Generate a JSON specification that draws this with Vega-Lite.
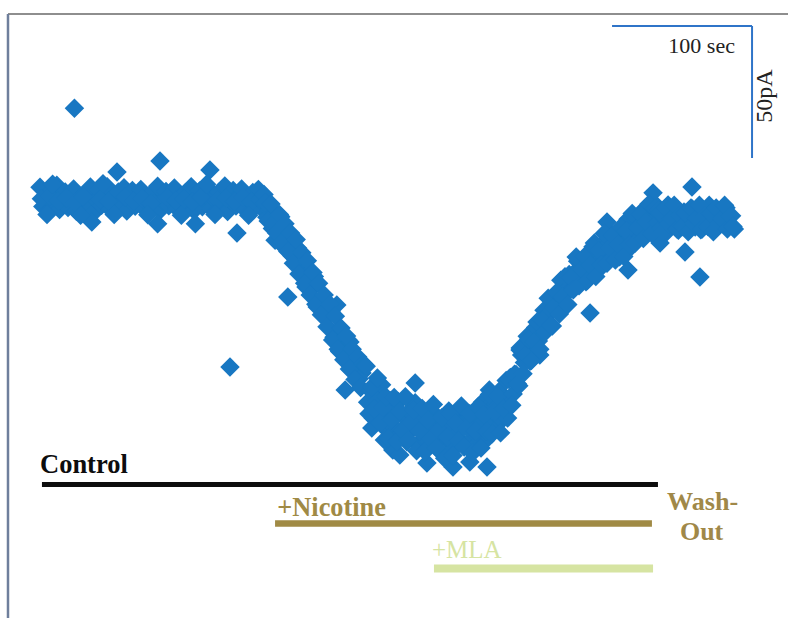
{
  "$schema": "https://vega.github.io/schema/vega-lite/v6.json",
  "width": 788,
  "height": 618,
  "autosize": "none",
  "padding": 0,
  "background": "white",
  "config": {"view": {"stroke": null}},
  "datasets": {
    "current": [
      {"t": 0, "pA": 4.8}, {"t": 2, "pA": -2.5}, {"t": 4, "pA": 1.2}, {"t": 6, "pA": -4.0}, {"t": 8, "pA": 3.5}, {"t": 10, "pA": -1.5},
      {"t": 12, "pA": 5.6}, {"t": 14, "pA": -3.6}, {"t": 16, "pA": 0.3}, {"t": 18, "pA": 3.0}, {"t": 20, "pA": -2.8}, {"t": 22, "pA": 1.5},
      {"t": 24, "pA": 4.2}, {"t": 26, "pA": -4.3}, {"t": 28, "pA": 0.6}, {"t": 30, "pA": -3.2}, {"t": 32, "pA": 2.4}, {"t": 34, "pA": -0.8},
      {"t": 36, "pA": 4.9}, {"t": 38, "pA": -5.0}, {"t": 40, "pA": 0.0}, {"t": 42, "pA": 3.8}, {"t": 44, "pA": -2.0}, {"t": 46, "pA": 2.0},
      {"t": 48, "pA": 5.0}, {"t": 50, "pA": -3.4}, {"t": 52, "pA": 1.0}, {"t": 54, "pA": -4.4}, {"t": 56, "pA": 3.0}, {"t": 58, "pA": -1.0},
      {"t": 60, "pA": 4.6}, {"t": 62, "pA": -4.2}, {"t": 64, "pA": 0.2}, {"t": 66, "pA": 3.6}, {"t": 68, "pA": -2.4}, {"t": 70, "pA": 1.6},
      {"t": 72, "pA": 4.0}, {"t": 74, "pA": -3.0}, {"t": 76, "pA": 0.8}, {"t": 78, "pA": -4.8}, {"t": 80, "pA": 2.6}, {"t": 82, "pA": -1.4},
      {"t": 84, "pA": 5.2}, {"t": 86, "pA": -3.8}, {"t": 88, "pA": -0.3}, {"t": 90, "pA": 3.2}, {"t": 92, "pA": -2.2}, {"t": 94, "pA": 2.2},
      {"t": 96, "pA": 4.5}, {"t": 98, "pA": -3.3}, {"t": 100, "pA": 1.1}, {"t": 102, "pA": -4.5}, {"t": 104, "pA": 2.8}, {"t": 106, "pA": -0.6},
      {"t": 108, "pA": 5.0}, {"t": 110, "pA": -4.0}, {"t": 112, "pA": 0.4}, {"t": 114, "pA": 3.4}, {"t": 116, "pA": -2.6}, {"t": 118, "pA": 1.8},
      {"t": 120, "pA": 4.4}, {"t": 122, "pA": -3.1}, {"t": 124, "pA": 0.7}, {"t": 126, "pA": -4.2}, {"t": 128, "pA": 3.0}, {"t": 130, "pA": -1.2},
      {"t": 132, "pA": 5.3}, {"t": 134, "pA": -4.4}, {"t": 136, "pA": 0.0}, {"t": 138, "pA": 3.6}, {"t": 140, "pA": -2.3}, {"t": 142, "pA": 1.7},
      {"t": 144, "pA": 4.2}, {"t": 146, "pA": -3.4}, {"t": 148, "pA": 0.8}, {"t": 150, "pA": -4.6}, {"t": 152, "pA": 2.8}, {"t": 154, "pA": -1.2},
      {"t": 156, "pA": 4.0}, {"t": 158, "pA": -3.0},
      {"t": 24.6, "pA": 34.8}, {"t": 85.7, "pA": 14.8}, {"t": 121.4, "pA": 11.4}, {"t": 55, "pA": 10.6},
      {"t": 140.7, "pA": -12.5}, {"t": 135.7, "pA": -63.3}, {"t": 37, "pA": -8.3}, {"t": 84, "pA": -9.0}, {"t": 111, "pA": -9.0},
      {"t": 1, "pA": 0.5}, {"t": 7, "pA": 1.5}, {"t": 13, "pA": -0.5}, {"t": 19, "pA": 0.8}, {"t": 25, "pA": -1.0}, {"t": 31, "pA": 1.2},
      {"t": 43, "pA": 0.2}, {"t": 49, "pA": -0.6}, {"t": 61, "pA": 1.0}, {"t": 67, "pA": -0.4}, {"t": 73, "pA": 0.6}, {"t": 79, "pA": -1.2},
      {"t": 91, "pA": 0.9}, {"t": 97, "pA": -0.2}, {"t": 103, "pA": 0.4}, {"t": 109, "pA": -0.8}, {"t": 115, "pA": 1.1}, {"t": 127, "pA": 0.0},
      {"t": 133, "pA": 0.7}, {"t": 139, "pA": -0.5}, {"t": 145, "pA": 1.0}, {"t": 151, "pA": -0.7}, {"t": 157, "pA": 0.3},
      {"t": 5, "pA": -5.5}, {"t": 29, "pA": -5.8}, {"t": 53, "pA": -5.5}, {"t": 77, "pA": -5.6}, {"t": 101, "pA": -5.8}, {"t": 125, "pA": -5.5},
      {"t": 149, "pA": -5.8}, {"t": 9, "pA": 6.0}, {"t": 45, "pA": 6.2}, {"t": 119, "pA": 6.0},
      {"t": 160, "pA": 2.1}, {"t": 162, "pA": -6.5}, {"t": 164, "pA": -3.8}, {"t": 166, "pA": -10.8}, {"t": 168, "pA": -5.1}, {"t": 170, "pA": -11.0},
      {"t": 172, "pA": -6.3}, {"t": 174, "pA": -17.6}, {"t": 176, "pA": -15.4}, {"t": 178, "pA": -13.8}, {"t": 180, "pA": -21.1}, {"t": 182, "pA": -18.9},
      {"t": 184, "pA": -18.2}, {"t": 186, "pA": -27.6}, {"t": 188, "pA": -25.5}, {"t": 190, "pA": -33.0}, {"t": 192, "pA": -27.5}, {"t": 194, "pA": -33.5},
      {"t": 196, "pA": -29.0}, {"t": 198, "pA": -40.5}, {"t": 200, "pA": -38.4}, {"t": 202, "pA": -37.0}, {"t": 204, "pA": -44.6}, {"t": 206, "pA": -42.7},
      {"t": 208, "pA": -42.4}, {"t": 210, "pA": -52.0}, {"t": 212, "pA": -50.0}, {"t": 214, "pA": -57.4}, {"t": 216, "pA": -51.8}, {"t": 218, "pA": -57.7},
      {"t": 220, "pA": -53.0}, {"t": 222, "pA": -64.3}, {"t": 224, "pA": -62.1}, {"t": 226, "pA": -60.4}, {"t": 228, "pA": -67.7}, {"t": 230, "pA": -65.5},
      {"t": 167.9, "pA": -15.2}, {"t": 177, "pA": -36.7}, {"t": 212, "pA": -39.8}, {"t": 221.4, "pA": -53.8},
      {"t": 161, "pA": -1.0}, {"t": 163, "pA": -8.0}, {"t": 165, "pA": -1.5}, {"t": 167, "pA": -9.0}, {"t": 169, "pA": -12.5}, {"t": 171, "pA": -5.5},
      {"t": 173, "pA": -16.0}, {"t": 175, "pA": -9.0}, {"t": 177, "pA": -19.5}, {"t": 179, "pA": -12.5}, {"t": 181, "pA": -24.0}, {"t": 183, "pA": -15.0},
      {"t": 185, "pA": -28.0}, {"t": 187, "pA": -20.0}, {"t": 189, "pA": -31.5}, {"t": 191, "pA": -23.0}, {"t": 193, "pA": -36.0}, {"t": 195, "pA": -27.5},
      {"t": 197, "pA": -39.5}, {"t": 199, "pA": -31.5}, {"t": 201, "pA": -43.5}, {"t": 203, "pA": -36.0}, {"t": 205, "pA": -48.0}, {"t": 207, "pA": -39.5},
      {"t": 209, "pA": -53.0}, {"t": 211, "pA": -44.0}, {"t": 213, "pA": -56.5}, {"t": 215, "pA": -48.5}, {"t": 217, "pA": -60.5}, {"t": 219, "pA": -51.5},
      {"t": 221, "pA": -64.0}, {"t": 223, "pA": -56.5}, {"t": 225, "pA": -68.0}, {"t": 227, "pA": -59.5}, {"t": 229, "pA": -71.0}, {"t": 231, "pA": -62.0},
      {"t": 232, "pA": -62.6}, {"t": 234, "pA": -76.6}, {"t": 236, "pA": -72.2}, {"t": 238, "pA": -82.6}, {"t": 240, "pA": -71.8}, {"t": 242, "pA": -79.4},
      {"t": 244, "pA": -70.0}, {"t": 246, "pA": -86.2}, {"t": 248, "pA": -80.8}, {"t": 250, "pA": -75.9}, {"t": 252, "pA": -85.5}, {"t": 254, "pA": -79.8},
      {"t": 256, "pA": -76.4}, {"t": 258, "pA": -88.7}, {"t": 260, "pA": -82.5}, {"t": 262, "pA": -91.6}, {"t": 264, "pA": -80.0}, {"t": 266, "pA": -86.7},
      {"t": 268, "pA": -76.8}, {"t": 270, "pA": -92.4}, {"t": 272, "pA": -86.5}, {"t": 274, "pA": -81.4}, {"t": 276, "pA": -90.4}, {"t": 278, "pA": -84.0},
      {"t": 280, "pA": -80.0}, {"t": 282, "pA": -92.3}, {"t": 284, "pA": -86.2}, {"t": 286, "pA": -95.3}, {"t": 288, "pA": -83.6}, {"t": 290, "pA": -90.3},
      {"t": 292, "pA": -79.9}, {"t": 294, "pA": -95.1}, {"t": 296, "pA": -88.5}, {"t": 298, "pA": -82.6}, {"t": 300, "pA": -91.1}, {"t": 302, "pA": -84.4},
      {"t": 304, "pA": -80.1}, {"t": 306, "pA": -91.8}, {"t": 308, "pA": -85.1}, {"t": 310, "pA": -93.6}, {"t": 312, "pA": -81.4}, {"t": 314, "pA": -87.6},
      {"t": 316, "pA": -76.6}, {"t": 318, "pA": -91.2}, {"t": 320, "pA": -84.1}, {"t": 322, "pA": -77.3}, {"t": 324, "pA": -84.9}, {"t": 326, "pA": -77.2},
      {"t": 328, "pA": -72.4}, {"t": 330, "pA": -83.3}, {"t": 332, "pA": -75.4}, {"t": 334, "pA": -82.6},
      {"t": 252, "pA": -94.7}, {"t": 276.4, "pA": -99.6}, {"t": 295, "pA": -101.1}, {"t": 319.3, "pA": -101.1}, {"t": 307, "pA": -99.2},
      {"t": 268, "pA": -69.3}, {"t": 257, "pA": -96.6}, {"t": 218, "pA": -72.0}, {"t": 237, "pA": -86.4}, {"t": 246, "pA": -90.9}, {"t": 321, "pA": -72.0},
      {"t": 263, "pA": -86.0}, {"t": 271, "pA": -84.5}, {"t": 279, "pA": -88.0}, {"t": 287, "pA": -89.5}, {"t": 293, "pA": -86.5},
      {"t": 299, "pA": -88.0}, {"t": 305, "pA": -85.5}, {"t": 311, "pA": -88.5}, {"t": 317, "pA": -84.0}, {"t": 249, "pA": -84.0},
      {"t": 255, "pA": -90.0}, {"t": 241, "pA": -76.0},
      {"t": 233, "pA": -63.0}, {"t": 235, "pA": -81.0}, {"t": 237, "pA": -70.8}, {"t": 239, "pA": -79.2}, {"t": 241, "pA": -67.4}, {"t": 243, "pA": -84.5},
      {"t": 245, "pA": -78.5}, {"t": 247, "pA": -74.5}, {"t": 249, "pA": -90.3}, {"t": 251, "pA": -83.1}, {"t": 253, "pA": -74.8}, {"t": 255, "pA": -91.5},
      {"t": 257, "pA": -80.0}, {"t": 259, "pA": -87.2}, {"t": 261, "pA": -74.5}, {"t": 263, "pA": -90.8}, {"t": 265, "pA": -84.2}, {"t": 267, "pA": -79.5},
      {"t": 269, "pA": -95.0}, {"t": 271, "pA": -87.5}, {"t": 273, "pA": -79.0}, {"t": 275, "pA": -95.3}, {"t": 277, "pA": -83.4}, {"t": 279, "pA": -90.4},
      {"t": 281, "pA": -77.5}, {"t": 283, "pA": -93.8}, {"t": 285, "pA": -87.2}, {"t": 287, "pA": -82.5}, {"t": 289, "pA": -97.8}, {"t": 291, "pA": -89.9},
      {"t": 293, "pA": -80.9}, {"t": 295, "pA": -96.8}, {"t": 297, "pA": -84.5}, {"t": 299, "pA": -91.2}, {"t": 301, "pA": -78.0}, {"t": 303, "pA": -93.6},
      {"t": 305, "pA": -86.3}, {"t": 307, "pA": -81.0}, {"t": 309, "pA": -95.7}, {"t": 311, "pA": -87.5}, {"t": 313, "pA": -78.3}, {"t": 315, "pA": -93.9},
      {"t": 317, "pA": -81.3}, {"t": 319, "pA": -87.6}, {"t": 321, "pA": -73.7}, {"t": 323, "pA": -88.5}, {"t": 325, "pA": -80.2}, {"t": 327, "pA": -74.2},
      {"t": 329, "pA": -88.2}, {"t": 331, "pA": -79.0}, {"t": 333, "pA": -68.4},
      {"t": 336, "pA": -67.2}, {"t": 338, "pA": -73.5}, {"t": 340, "pA": -66.1}, {"t": 342, "pA": -70.4}, {"t": 344, "pA": -58.7}, {"t": 346, "pA": -61.6},
      {"t": 348, "pA": -51.6}, {"t": 350, "pA": -61.1}, {"t": 352, "pA": -54.4}, {"t": 354, "pA": -48.3}, {"t": 356, "pA": -53.4}, {"t": 358, "pA": -46.7},
      {"t": 360, "pA": -41.8}, {"t": 362, "pA": -49.3}, {"t": 364, "pA": -42.6}, {"t": 366, "pA": -47.7}, {"t": 368, "pA": -36.8}, {"t": 370, "pA": -39.7},
      {"t": 372, "pA": -30.4}, {"t": 374, "pA": -40.2}, {"t": 376, "pA": -33.9}, {"t": 378, "pA": -28.2}, {"t": 380, "pA": -33.7}, {"t": 382, "pA": -27.4},
      {"t": 384, "pA": -23.2}, {"t": 386, "pA": -31.1}, {"t": 388, "pA": -25.2}, {"t": 390, "pA": -31.0}, {"t": 392, "pA": -20.9}, {"t": 394, "pA": -24.9},
      {"t": 396, "pA": -16.3}, {"t": 398, "pA": -27.0}, {"t": 400, "pA": -21.4}, {"t": 402, "pA": -16.5}, {"t": 404, "pA": -22.3}, {"t": 406, "pA": -16.8},
      {"t": 408, "pA": -13.0}, {"t": 410, "pA": -21.2}, {"t": 412, "pA": -15.7}, {"t": 414, "pA": -21.5}, {"t": 416, "pA": -11.8}, {"t": 418, "pA": -15.8},
      {"t": 420, "pA": -7.3}, {"t": 422, "pA": -17.9}, {"t": 424, "pA": -12.3}, {"t": 426, "pA": -7.4}, {"t": 428, "pA": -12.8}, {"t": 430, "pA": -7.3},
      {"t": 432, "pA": -3.2}, {"t": 434, "pA": -11.0}, {"t": 436, "pA": -5.5}, {"t": 438, "pA": -11.3}, {"t": 440, "pA": -1.9},
      {"t": 392.9, "pA": -42.8}, {"t": 420, "pA": -26.5}, {"t": 405, "pA": -8.3}, {"t": 442.9, "pA": -16.3}, {"t": 353.6, "pA": -56.8},
      {"t": 437.9, "pA": 2.7}, {"t": 357, "pA": -58.7}, {"t": 342.9, "pA": -56.8},
      {"t": 335, "pA": -68.0}, {"t": 337, "pA": -77.7}, {"t": 339, "pA": -66.0}, {"t": 341, "pA": -69.6}, {"t": 343, "pA": -56.1}, {"t": 345, "pA": -65.8},
      {"t": 347, "pA": -58.7}, {"t": 349, "pA": -52.7}, {"t": 351, "pA": -60.8}, {"t": 353, "pA": -53.9}, {"t": 355, "pA": -46.2}, {"t": 357, "pA": -56.5},
      {"t": 359, "pA": -45.6}, {"t": 361, "pA": -49.9}, {"t": 363, "pA": -37.2}, {"t": 365, "pA": -47.5}, {"t": 367, "pA": -40.8}, {"t": 369, "pA": -34.9},
      {"t": 371, "pA": -43.2}, {"t": 373, "pA": -36.6}, {"t": 375, "pA": -29.1}, {"t": 377, "pA": -39.6}, {"t": 379, "pA": -29.3}, {"t": 381, "pA": -34.0},
      {"t": 383, "pA": -21.6}, {"t": 385, "pA": -32.5}, {"t": 387, "pA": -26.4}, {"t": 389, "pA": -21.4}, {"t": 391, "pA": -30.5}, {"t": 393, "pA": -24.5},
      {"t": 395, "pA": -17.7}, {"t": 397, "pA": -29.0}, {"t": 399, "pA": -19.2}, {"t": 401, "pA": -24.5}, {"t": 403, "pA": -12.7}, {"t": 405, "pA": -24.0},
      {"t": 407, "pA": -18.2}, {"t": 409, "pA": -13.4}, {"t": 411, "pA": -22.7}, {"t": 413, "pA": -16.9}, {"t": 415, "pA": -10.2}, {"t": 417, "pA": -21.4},
      {"t": 419, "pA": -11.7}, {"t": 421, "pA": -16.9}, {"t": 423, "pA": -5.1}, {"t": 425, "pA": -16.4}, {"t": 427, "pA": -10.4}, {"t": 429, "pA": -5.5},
      {"t": 431, "pA": -14.6}, {"t": 433, "pA": -8.4}, {"t": 435, "pA": -1.5}, {"t": 437, "pA": -12.7}, {"t": 439, "pA": -3.1}, {"t": 441, "pA": -8.5},
      {"t": 442, "pA": -3.8}, {"t": 444, "pA": -10.6}, {"t": 446, "pA": -6.9}, {"t": 448, "pA": -11.9}, {"t": 450, "pA": -5.1}, {"t": 452, "pA": -8.8},
      {"t": 454, "pA": -2.9}, {"t": 456, "pA": -11.5}, {"t": 458, "pA": -7.9}, {"t": 460, "pA": -4.5}, {"t": 462, "pA": -9.5}, {"t": 464, "pA": -5.6},
      {"t": 466, "pA": -3.4}, {"t": 468, "pA": -10.2}, {"t": 470, "pA": -6.3}, {"t": 472, "pA": -11.3}, {"t": 474, "pA": -4.3}, {"t": 476, "pA": -8.0},
      {"t": 478, "pA": -2.0}, {"t": 480, "pA": -10.6}, {"t": 482, "pA": -7.0}, {"t": 484, "pA": -3.8}, {"t": 486, "pA": -8.8}, {"t": 488, "pA": -5.1},
      {"t": 490, "pA": -2.9}, {"t": 492, "pA": -9.7}, {"t": 494, "pA": -6.0}, {"t": 496, "pA": -11.0},
      {"t": 465.7, "pA": 4.9}, {"t": 460.7, "pA": -19.7}, {"t": 471.4, "pA": -29.2}, {"t": 448.6, "pA": -1.9},
      {"t": 443, "pA": -5.0}, {"t": 445, "pA": -12.0}, {"t": 447, "pA": -3.0}, {"t": 449, "pA": -9.0}, {"t": 451, "pA": -7.0}, {"t": 453, "pA": -2.0},
      {"t": 455, "pA": -11.0}, {"t": 457, "pA": -6.0}, {"t": 459, "pA": -10.0}, {"t": 461, "pA": -5.0}, {"t": 463, "pA": -12.0}, {"t": 465, "pA": -3.0},
      {"t": 467, "pA": -9.0}, {"t": 469, "pA": -7.0}, {"t": 471, "pA": -2.0}, {"t": 473, "pA": -11.0}, {"t": 475, "pA": -6.0}, {"t": 477, "pA": -10.0},
      {"t": 479, "pA": -5.0}, {"t": 481, "pA": -12.0}, {"t": 483, "pA": -3.0}, {"t": 485, "pA": -9.0}, {"t": 487, "pA": -7.0}, {"t": 489, "pA": -2.0},
      {"t": 491, "pA": -11.0}, {"t": 493, "pA": -6.0}, {"t": 495, "pA": -10.0}
    ],
    "periods": [
      {"label": "Control", "start": 1.4, "end": 441.4, "level": -107.8},
      {"label": "+Nicotine", "start": 167.9, "end": 437.1, "level": -122.5},
      {"label": "+MLA", "start": 281.4, "end": 437.9, "level": -139.6}
    ],
    "labels": [
      {"label": "Control", "t": 0, "pA": -103.4},
      {"label": "+Nicotine", "t": 169.5, "pA": -119.7},
      {"label": "Wash-", "t": 447.9, "pA": -117.4},
      {"label": "Out", "t": 457.1, "pA": -128.8}
    ],
    "scalebar": [
      {"t": 408.6, "t2": 508.6, "pA": 65.9, "pA2": 65.9},
      {"t": 508.6, "t2": 508.6, "pA": 65.9, "pA2": 15.9}
    ]
  },
  "encoding": {
    "x": {"field": "t", "type": "quantitative", "axis": null, "scale": {"domain": [-28.571, 534.286], "nice": false, "zero": false}},
    "y": {"field": "pA", "type": "quantitative", "axis": null, "scale": {"domain": [-158.333, 75.758], "nice": false, "zero": false}}
  },
  "layer": [
    {
      "data": {"values": [{"t": -22.86, "t2": 534.286, "pA": 70.45}]},
      "mark": {"type": "rule", "color": "#8e8e8e", "strokeWidth": 2},
      "encoding": {"x2": {"field": "t2"}}
    },
    {
      "data": {"values": [{"t": -22.86, "pA": 70.45, "pA2": -158.333}]},
      "mark": {"type": "rule", "color": "#6f7f9c", "strokeWidth": 2.5},
      "encoding": {"y2": {"field": "pA2"}}
    },
    {
      "data": {"name": "scalebar"},
      "mark": {"type": "rule", "color": "#2f74c8", "strokeWidth": 2},
      "encoding": {
        "x2": {"field": "t2"},
        "y2": {"field": "pA2"}
      }
    },
    {
      "data": {"values": [{"txt": "100 sec", "t": 496.4, "pA": 55.7}]},
      "mark": {"type": "text", "align": "right", "baseline": "alphabetic", "font": "Liberation Serif", "fontSize": 22, "color": "#222222"},
      "encoding": {"text": {"field": "txt"}}
    },
    {
      "data": {"values": [{"txt": "50pA", "t": 517.9, "pA": 39.4}]},
      "mark": {"type": "text", "align": "center", "baseline": "middle", "angle": 270, "font": "Liberation Serif", "fontSize": 24, "color": "#222222"},
      "encoding": {"text": {"field": "txt"}}
    },
    {
      "data": {"name": "current"},
      "mark": {"type": "point", "shape": "diamond", "filled": true, "size": 380, "opacity": 1, "color": "#1877c2"}
    },
    {
      "data": {"name": "periods"},
      "mark": {"type": "rule", "strokeCap": "butt"},
      "encoding": {
        "x": {"field": "start", "type": "quantitative"},
        "x2": {"field": "end"},
        "y": {"field": "level", "type": "quantitative"},
        "color": {"field": "label", "type": "nominal", "legend": null,
          "scale": {"domain": ["Control", "+Nicotine", "+MLA", "Wash-", "Out"], "range": ["#0d0d0d", "#a08a45", "#d6e4a2", "#a08848", "#a08848"]}},
        "strokeWidth": {"field": "label", "type": "nominal", "legend": null,
          "scale": {"domain": ["Control", "+Nicotine", "+MLA"], "range": [5, 8, 6]}}
      }
    },
    {
      "data": {"name": "labels"},
      "mark": {"type": "text", "align": "left", "baseline": "alphabetic", "font": "Liberation Serif", "fontWeight": "bold"},
      "encoding": {
        "text": {"field": "label"},
        "size": {"field": "label", "type": "nominal", "legend": null,
          "scale": {"domain": ["Control", "+Nicotine", "Wash-", "Out"], "range": [26.5, 26, 25, 25]}},
        "color": {"field": "label", "type": "nominal", "legend": null,
          "scale": {"domain": ["Control", "+Nicotine", "+MLA", "Wash-", "Out"], "range": ["#0d0d0d", "#a8925a", "#d8e2a8", "#a08848", "#a08848"]}}
      }
    },
    {
      "data": {"values": [{"label": "+MLA", "t": 280, "pA": -135.6}]},
      "mark": {"type": "text", "align": "left", "baseline": "alphabetic", "font": "Liberation Serif", "fontSize": 25},
      "encoding": {
        "text": {"field": "label"},
        "color": {"field": "label", "type": "nominal", "legend": null}
      }
    }
  ]
}
